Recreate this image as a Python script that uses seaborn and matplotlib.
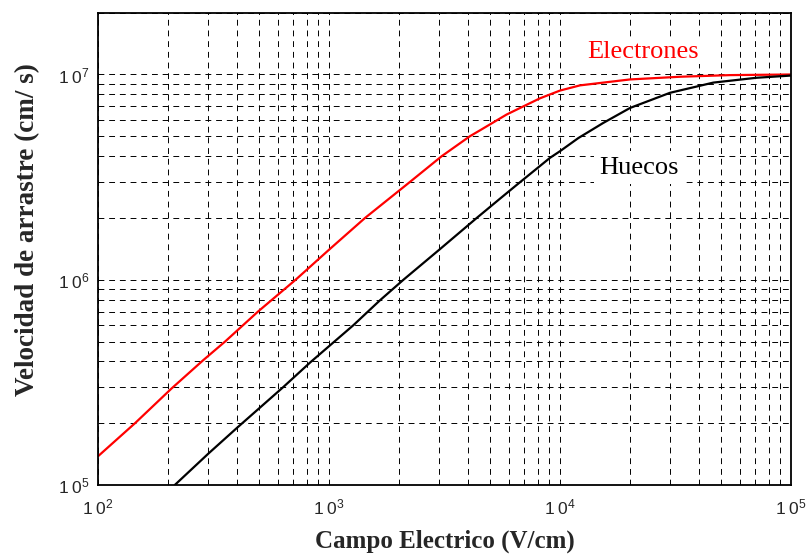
import math
import matplotlib
matplotlib.use('Agg')
import matplotlib.pyplot as plt
import matplotlib.ticker as mticker
import pandas as pd
import seaborn as sns

# Drift velocity vs electric field
campo_electrones = [100, 144.6, 208, 285, 355, 493, 717, 1000, 1432, 2244, 3076,
                    4070, 4510, 5870, 8180, 10000, 12200, 20100, 33100, 54400,
                    100000]
vel_electrones = [1.38e5, 2.0e5, 2.95e5, 4.05e5, 5.0e5, 7.0e5, 1.0e6, 1.4e6, 2.0e6,
                  3.0e6, 4.0e6, 5.0e6, 5.35e6, 6.38e6, 7.65e6, 8.35e6, 8.85e6,
                  9.46e6, 9.75e6, 9.93e6, 1.0e7]

campo_huecos = [215, 300, 400, 634, 828, 1274, 1664, 2100, 3000, 4360, 5490, 6500,
                9060, 10000, 12000, 15400, 20100, 29900, 46100, 71000, 100000]
vel_huecos = [1.0e5, 1.42e5, 1.9e5, 3.0e5, 3.95e5, 6.0e5, 7.95e5, 1.0e6, 1.4e6,
              2.0e6, 2.48e6, 2.9e6, 3.93e6, 4.23e6, 4.9e6, 5.81e6, 6.87e6,
              8.14e6, 9.13e6, 9.64e6, 9.88e6]

df_e = pd.DataFrame({'E': campo_electrones, 'v': vel_electrones})
df_h = pd.DataFrame({'E': campo_huecos, 'v': vel_huecos})

sns.set_style('white')
plt.rcParams['font.family'] = ['Liberation Sans', 'DejaVu Sans']
plt.rcParams['mathtext.fontset'] = 'custom'
plt.rcParams['mathtext.rm'] = 'Liberation Sans'
plt.rcParams['mathtext.it'] = 'Liberation Sans:italic'
plt.rcParams['mathtext.bf'] = 'Liberation Sans:bold'

fig = plt.figure(figsize=(8.08, 5.57), dpi=100)
ax = fig.add_axes([0.1213, 0.1293, 0.8577, 0.8479])

sns.lineplot(data=df_e, x='E', y='v', color='red', lw=1.6, sort=False, ax=ax)
sns.lineplot(data=df_h, x='E', y='v', color='black', lw=1.6, sort=False, ax=ax)

ax.set_xscale('log')
ax.set_yscale('log')
ax.set_xlim(1e2, 1e5)
ax.set_ylim(1e5, 2e7)

ax.xaxis.set_major_locator(mticker.LogLocator(base=10))
ax.yaxis.set_major_locator(mticker.LogLocator(base=10))
ax.xaxis.set_minor_locator(mticker.LogLocator(base=10, subs=range(2, 10)))
ax.yaxis.set_minor_locator(mticker.LogLocator(base=10, subs=range(2, 10)))

def pot10(v, pos):
    return r'$\mathregular{1\;0^{%d}}$' % round(math.log10(v))

ax.xaxis.set_major_formatter(mticker.FuncFormatter(pot10))
ax.yaxis.set_major_formatter(mticker.FuncFormatter(pot10))
ax.xaxis.set_minor_formatter(mticker.NullFormatter())
ax.yaxis.set_minor_formatter(mticker.NullFormatter())

ax.grid(which='both', color='black', lw=0.7, ls=(0, (6, 5)))
ax.tick_params(which='both', length=0, labelsize=12.5)
ax.tick_params(axis='x', pad=9)
ax.tick_params(axis='y', pad=6)

for s in ax.spines.values():
    s.set_color('black')
    s.set_linewidth(1.3)

ax.text(22870, 1.29e7, 'Electrones', color='red', fontsize=19,
        family='Liberation Serif', ha='center', va='center',
        bbox=dict(facecolor='white', edgecolor='none', pad=1))
ax.text(21980, 3.52e6, 'Huecos', color='black', fontsize=19,
        family='Liberation Serif', ha='center', va='center',
        bbox=dict(facecolor='white', edgecolor='none', pad=4))

ax.set_xlabel('Campo Electrico (V/cm)', fontsize=18, fontweight='bold',
              family='Liberation Serif', labelpad=9)
ax.set_ylabel('Velocidad de arrastre (cm/ s)', fontsize=19.5, fontweight='bold',
              family='Liberation Serif')
ax.yaxis.set_label_coords(-0.083, 0.54)

fig.savefig('out.png', dpi=100)
